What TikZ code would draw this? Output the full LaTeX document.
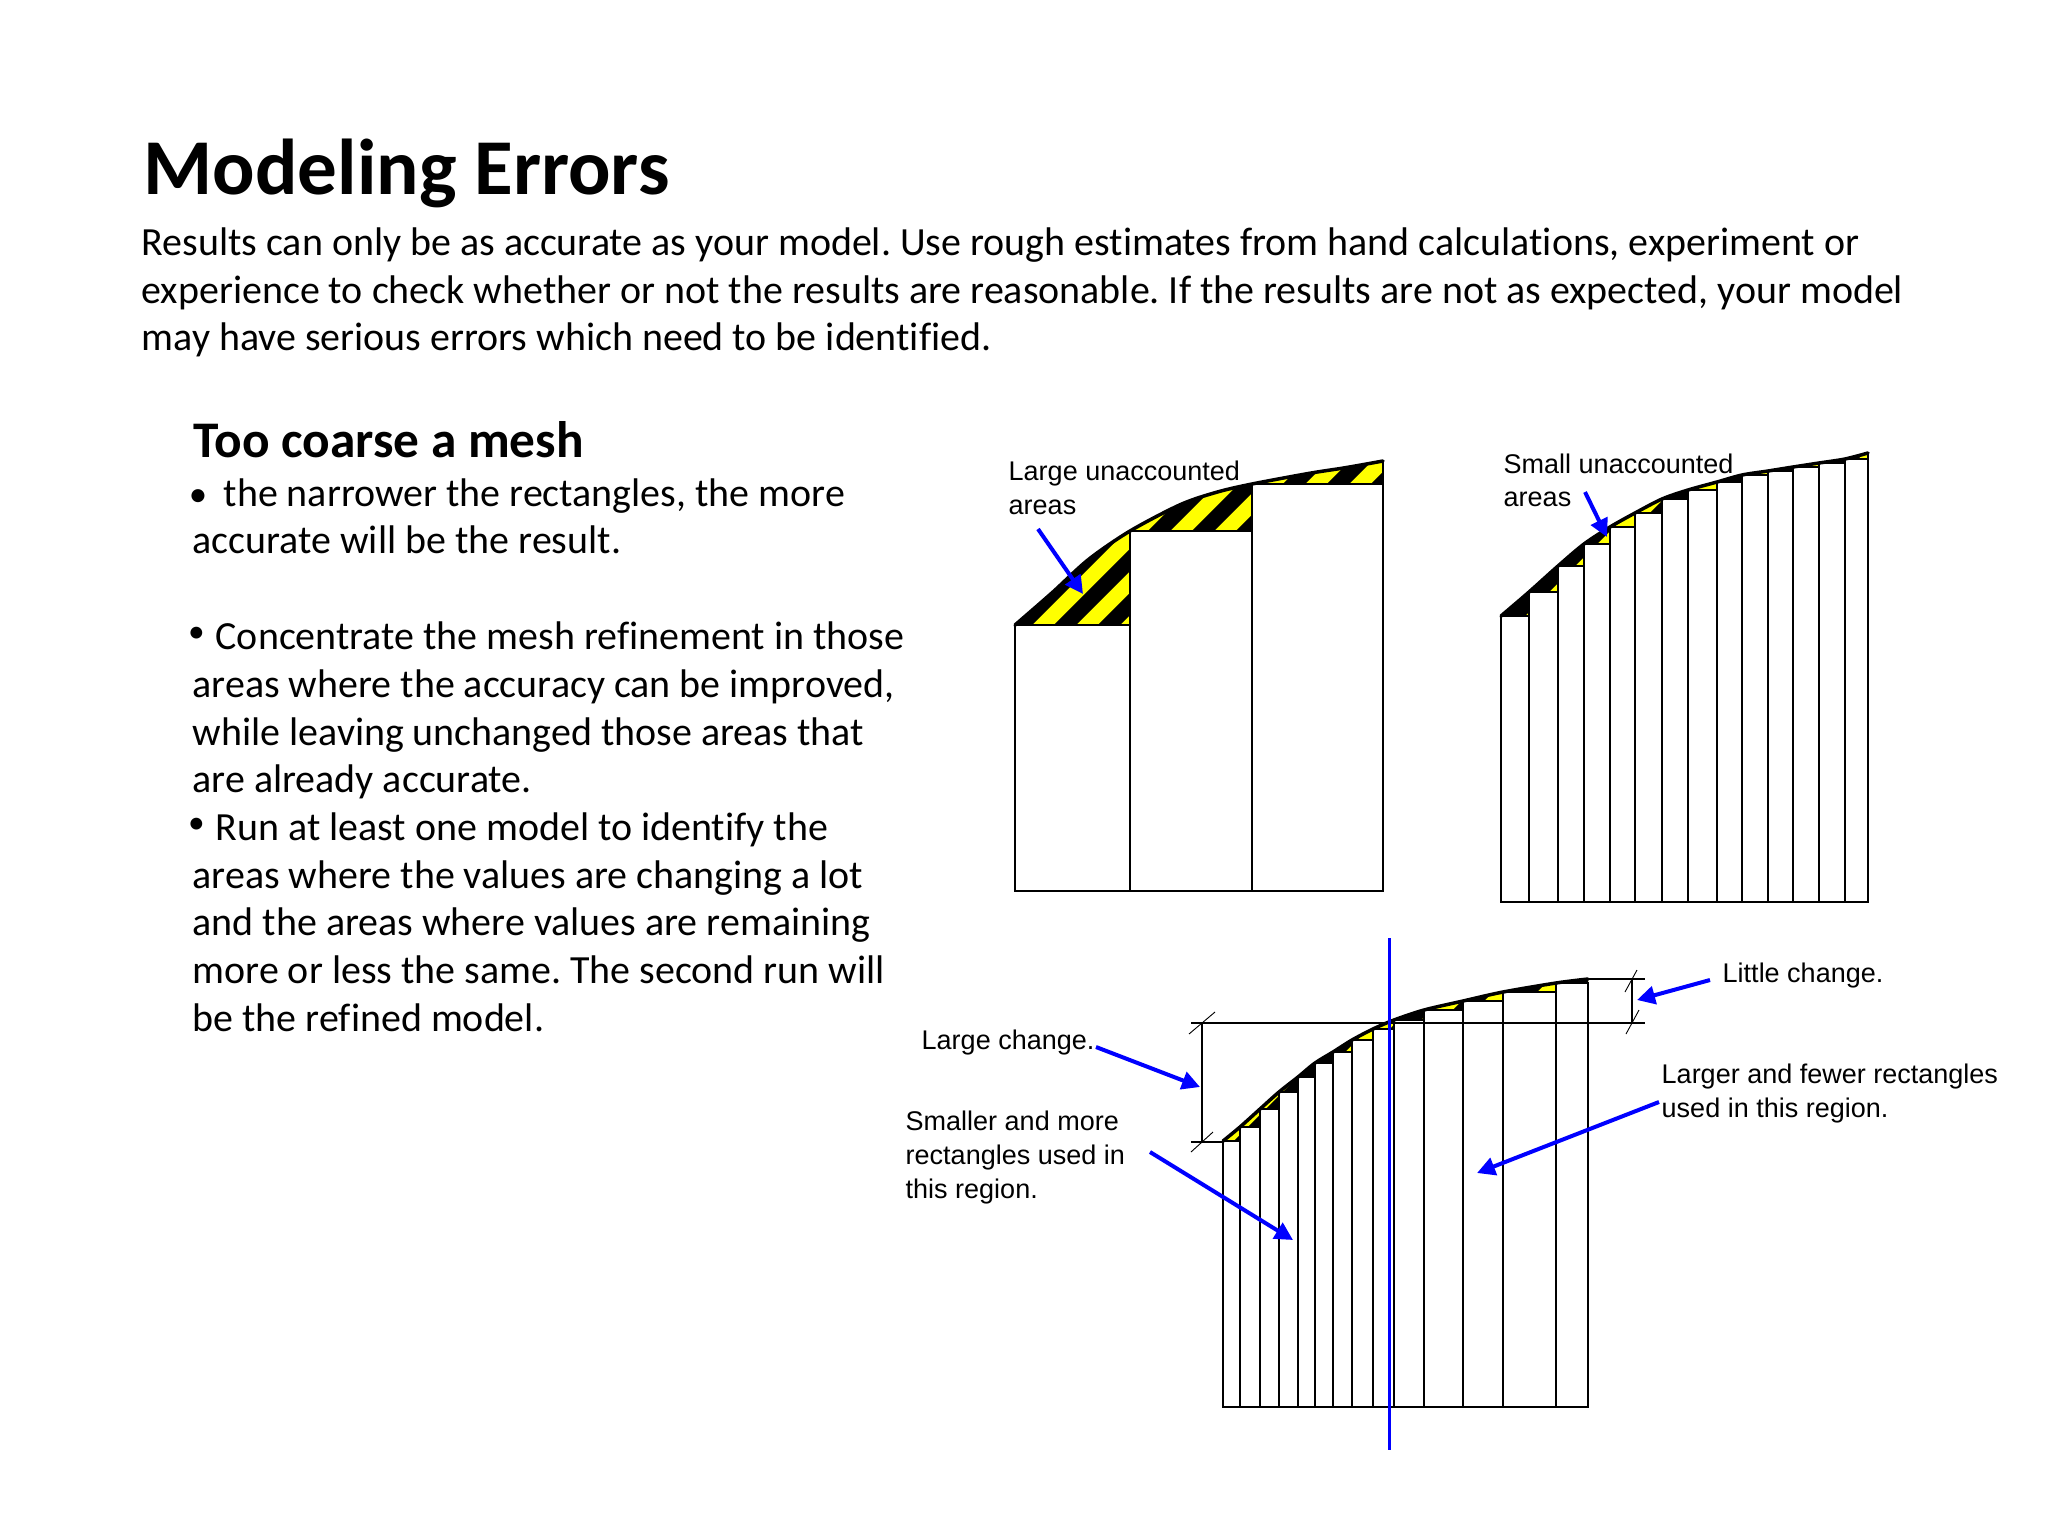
\documentclass[tikz,border=0pt]{standalone}
\usepackage{fontspec}
\setmainfont{Carlito}[Ligatures={NoCommon}]
\newfontfamily\labfont{Liberation Sans}
\usetikzlibrary{arrows.meta}
\frenchspacing
\definecolor{hatchyellow}{RGB}{255,255,0}
\definecolor{arrowblue}{RGB}{0,0,255}
\tikzset{
  titletext/.style={anchor=base west, inner sep=0pt, font=\bfseries\fontsize{22.5pt}{27pt}\selectfont},
  headtext/.style={anchor=base west, inner sep=0pt, font=\bfseries\fontsize{14.6pt}{17.5pt}\selectfont},
  body/.style={anchor=base west, inner sep=0pt, font=\fontsize{11.36pt}{13.6pt}\selectfont},
  bulletbig/.style={anchor=base, inner sep=0pt, font=\fontsize{10.5pt}{13pt}\selectfont},
  bulletsmall/.style={anchor=base, inner sep=0pt, font=\fontsize{9.5pt}{11pt}\selectfont},
  lbl/.style={anchor=base west, inner sep=0pt, font=\labfont\fontsize{7.68pt}{9.6pt}\selectfont},
  barrow/.style={draw=arrowblue, line width=0.04cm, -{Triangle[length=0.18cm,width=0.18cm]}},
  cell/.style={draw=black, line width=0.02cm},
  cellthin/.style={draw=black, line width=0.016cm},
  curveline/.style={draw=black, line width=0.035cm, line join=round, line cap=round},
  dimline/.style={draw=black, line width=0.014cm},
  tickline/.style={draw=black, line width=0.009cm},
  stripe/.style={draw=black, line width=0.156cm},
}
\begin{document}
\begin{tikzpicture}[x=0.01cm,y=-0.01cm]
\useasboundingbox (0,0) rectangle (2048,1536);
\fill[white] (0,0) rectangle (2048,1536);

% ---------- texts ----------
\node[titletext] (title) at (143,194) {Modeling Errors};
\node[body] (p1) at (141,255) {Results can only be as accurate as your model. Use rough estimates from hand calculations, experiment or};
\node[body] (p2) at (141,303) {experience to check whether or not the results are reasonable. If the results are not as expected, your model};
\node[body] (p3) at (141,350) {may have serious errors which need to be identified.};

\node[headtext] (head) at (193,457) {Too coarse a mesh};
\node[bulletbig] (bu1) at (198,506) {•};
\node[body] (b1) at (223,506) {the narrower the rectangles, the more};
\node[body] (b2) at (192,553.7) {accurate will be the result.};
\node[bulletsmall] (bu2) at (196.5,642) {•};
\node[body] (b4) at (215,649) {Concentrate the mesh refinement in those};
\node[body] (b5) at (192,697) {areas where the accuracy can be improved,};
\node[body] (b6) at (192,745) {while leaving unchanged those areas that};
\node[body] (b7) at (192,792) {are already accurate.};
\node[bulletsmall] (bu3) at (196.5,833) {•};
\node[body] (b8) at (215,840) {Run at least one model to identify the};
\node[body] (b9) at (192,888) {areas where the values are changing a lot};
\node[body] (b10) at (192,935) {and the areas where values are remaining};
\node[body] (b11) at (192,983) {more or less the same. The second run will};
\node[body] (b12) at (192,1031) {be the refined model.};

% ---------- top-left diagram ----------
\begin{scope}
  \path[clip] plot[smooth] coordinates {(1015,625) (1051.8,593) (1088.6,559.4) (1130,531) (1180.6,504.5) (1217.4,492) (1252,484) (1309.4,473.3) (1346,467.6) (1383,461)}
    -- (1383,484) -- (1252,484) -- (1252,531) -- (1130,531) -- (1130,625) -- cycle;
  \fill[hatchyellow] (1000,440) rectangle (1400,640);
  \foreach \c in {226,270,...,2026} \draw[stripe] (\c,1200) -- ++(800,-800);
\end{scope}
\draw[cell] (1015,891) rectangle (1130,625);
\draw[cell] (1130,891) rectangle (1252,531);
\draw[cell] (1252,891) rectangle (1383,484);
\draw[curveline] plot[smooth] coordinates {(1015,625) (1051.8,593) (1088.6,559.4) (1130,531) (1180.6,504.5) (1217.4,492) (1252,484) (1309.4,473.3) (1346,467.6) (1383,461)};
\draw[cell] (1383,461) -- (1383,484);

% ---------- top-right diagram ----------
\begin{scope}
  \path[clip] plot[smooth] coordinates {(1501,616) (1529,592) (1558,566) (1584,544) (1610,527) (1635,513) (1662,499) (1688,490) (1717,482) (1742,475) (1768,471) (1793,467) (1819,463) (1845,459) (1868,453)}
    -- (1868,459) -- (1845,459) -- (1845,463) -- (1819,463) -- (1819,467) -- (1793,467) -- (1793,471) -- (1768,471) -- (1768,475) -- (1742,475) -- (1742,482) -- (1717,482) -- (1717,490) -- (1688,490) -- (1688,499) -- (1662,499) -- (1662,513) -- (1635,513) -- (1635,527) -- (1610,527) -- (1610,544) -- (1584,544) -- (1584,566) -- (1558,566) -- (1558,592) -- (1529,592) -- (1529,616) -- cycle;
  \fill[hatchyellow] (1490,440) rectangle (1880,630);
  \foreach \c in {226,270,...,2026} \draw[stripe] (\c,1200) -- ++(800,-800);
\end{scope}
\draw[cell] (1501,902) rectangle (1529,616);
\draw[cell] (1529,902) rectangle (1558,592);
\draw[cell] (1558,902) rectangle (1584,566);
\draw[cell] (1584,902) rectangle (1610,544);
\draw[cell] (1610,902) rectangle (1635,527);
\draw[cell] (1635,902) rectangle (1662,513);
\draw[cell] (1662,902) rectangle (1688,499);
\draw[cell] (1688,902) rectangle (1717,490);
\draw[cell] (1717,902) rectangle (1742,482);
\draw[cell] (1742,902) rectangle (1768,475);
\draw[cell] (1768,902) rectangle (1793,471);
\draw[cell] (1793,902) rectangle (1819,467);
\draw[cell] (1819,902) rectangle (1845,463);
\draw[cell] (1845,902) rectangle (1868,459);
\draw[curveline] plot[smooth] coordinates {(1501,616) (1529,592) (1558,566) (1584,544) (1610,527) (1635,513) (1662,499) (1688,490) (1717,482) (1742,475) (1768,471) (1793,467) (1819,463) (1845,459) (1868,453)};
\draw[cell] (1868,453) -- (1868,459);

% ---------- bottom diagram ----------
\begin{scope}
  \path[clip] plot[smooth] coordinates {(1223,1141) (1240,1127) (1260,1109) (1279,1092) (1298,1077) (1315,1063) (1333,1052) (1352,1040) (1373,1029) (1394,1020) (1424,1010) (1463,1001) (1503,992) (1556,983) (1588,979)}
    -- (1588,983) -- (1556,983) -- (1556,992) -- (1503,992) -- (1503,1001) -- (1463,1001) -- (1463,1010) -- (1424,1010) -- (1424,1020) -- (1394,1020) -- (1394,1029) -- (1373,1029) -- (1373,1040) -- (1352,1040) -- (1352,1052) -- (1333,1052) -- (1333,1063) -- (1315,1063) -- (1315,1077) -- (1298,1077) -- (1298,1092) -- (1279,1092) -- (1279,1109) -- (1260,1109) -- (1260,1127) -- (1240,1127) -- (1240,1141) -- cycle;
  \fill[hatchyellow] (1210,960) rectangle (1600,1150);
  \foreach \c in {226,270,...,2026} \draw[stripe] (\c,1500) -- ++(800,-800);
\end{scope}
\draw[cellthin] (1223,1407) rectangle (1240,1141);
\draw[cellthin] (1240,1407) rectangle (1260,1127);
\draw[cellthin] (1260,1407) rectangle (1279,1109);
\draw[cellthin] (1279,1407) rectangle (1298,1092);
\draw[cellthin] (1298,1407) rectangle (1315,1077);
\draw[cellthin] (1315,1407) rectangle (1333,1063);
\draw[cellthin] (1333,1407) rectangle (1352,1052);
\draw[cellthin] (1352,1407) rectangle (1373,1040);
\draw[cellthin] (1373,1407) rectangle (1394,1029);
\draw[cellthin] (1394,1407) rectangle (1424,1020);
\draw[cellthin] (1424,1407) rectangle (1463,1010);
\draw[cellthin] (1463,1407) rectangle (1503,1001);
\draw[cellthin] (1503,1407) rectangle (1556,992);
\draw[cellthin] (1556,1407) rectangle (1588,983);
\draw[curveline] plot[smooth] coordinates {(1223,1141) (1240,1127) (1260,1109) (1279,1092) (1298,1077) (1315,1063) (1333,1052) (1352,1040) (1373,1029) (1394,1020) (1424,1010) (1463,1001) (1503,992) (1556,983) (1588,979)};

% dimension lines
\draw[dimline] (1191,1023) -- (1645,1023);
\draw[dimline] (1191,1142) -- (1223,1142);
\draw[dimline] (1202,1023) -- (1202,1142);
\draw[tickline] (1189,1034) -- (1215,1012);
\draw[tickline] (1191,1152) -- (1213,1132);
\draw[dimline] (1588,979) -- (1645,979);
\draw[dimline] (1632,979) -- (1632,1023);
\draw[tickline] (1625,992) -- (1637,970);
\draw[tickline] (1626,1034) -- (1639,1010);

% blue centre line
\coordinate (vtop) at (1389,938);
\coordinate (vbot) at (1389,1450);
\draw[draw=arrowblue, line width=0.03cm] (vtop) -- (vbot);

% ---------- labels and arrows ----------
\node[lbl] (tlA) at (1008,480) {Large unaccounted};
\node[lbl] (tlB) at (1008,514) {areas};
\coordinate (tlS) at (1038,529);
\coordinate (tlE) at (1083,594);
\draw[barrow] (tlS) -- (tlE);

\node[lbl] (trA) at (1503,473) {Small unaccounted};
\node[lbl] (trB) at (1503,506) {areas};
\coordinate (trS) at (1585,492);
\coordinate (trE) at (1607,537);
\draw[barrow] (trS) -- (trE);

\node[lbl] (lc) at (921,1049) {Large change.};
\coordinate (lcS) at (1096,1047);
\coordinate (lcE) at (1200,1087);
\draw[barrow] (lcS) -- (lcE);

\node[lbl] (smA) at (905,1130) {Smaller and more};
\node[lbl] (smB) at (905,1164) {rectangles used in};
\node[lbl] (smC) at (905,1198) {this region.};
\coordinate (smS) at (1150,1152);
\coordinate (smE) at (1293,1240);
\draw[barrow] (smS) -- (smE);

\node[lbl] (lt) at (1722,982) {Little change.};
\coordinate (ltS) at (1710,980);
\coordinate (ltE) at (1637,1000);
\draw[barrow] (ltS) -- (ltE);

\node[lbl] (lgA) at (1661,1083) {Larger and fewer rectangles};
\node[lbl] (lgB) at (1661,1117) {used in this region.};
\coordinate (lgS) at (1659,1102);
\coordinate (lgE) at (1477,1173);
\draw[barrow] (lgS) -- (lgE);
\end{tikzpicture}
\end{document}
